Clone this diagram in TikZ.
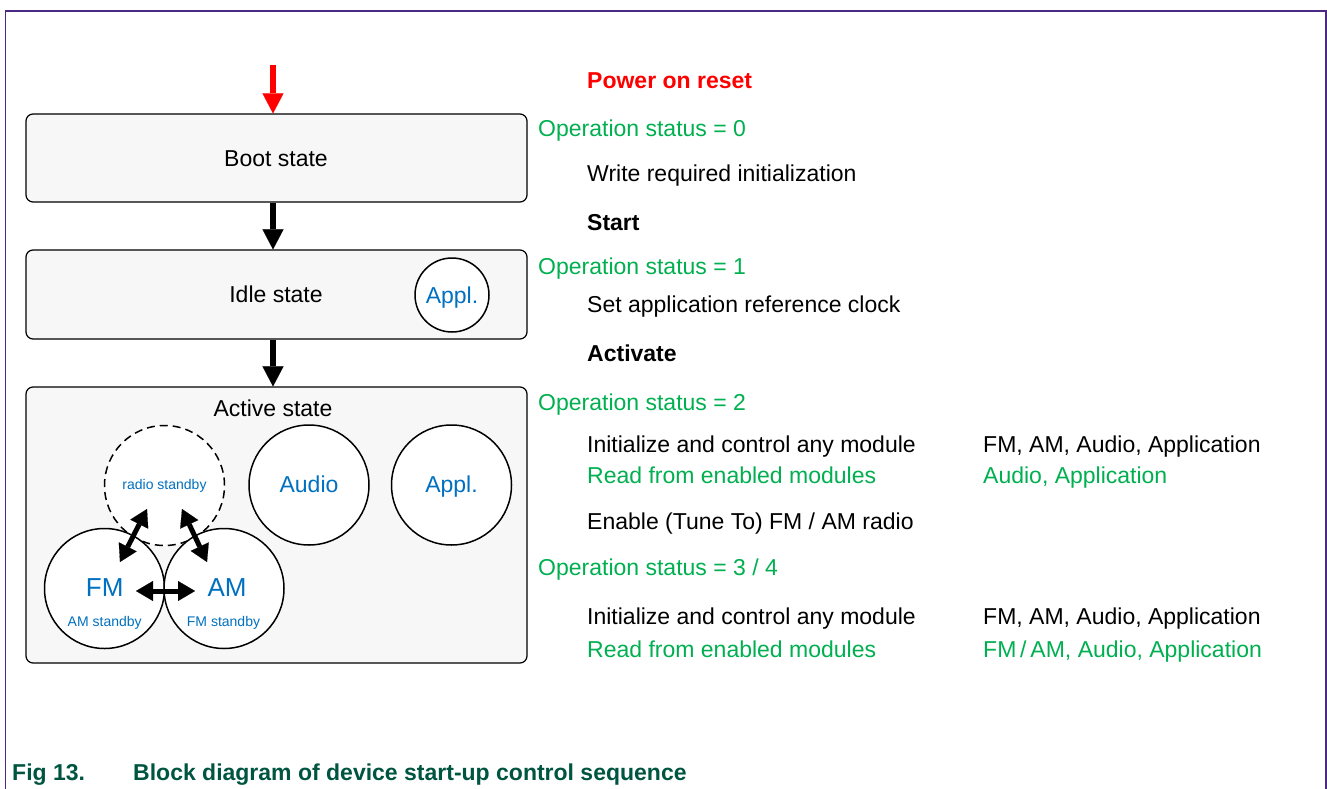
\documentclass[tikz,border=0pt]{standalone}
\usepackage{fontspec}
\setmainfont{Liberation Sans}
\usetikzlibrary{arrows.meta}
\definecolor{framecol}{RGB}{75,40,130}
\definecolor{grn}{RGB}{0,176,80}
\definecolor{blu}{RGB}{0,112,192}
\definecolor{capcol}{RGB}{0,85,65}
\definecolor{boxfill}{RGB}{247,247,247}
\begin{document}
\begin{tikzpicture}[x=1pt,y=-1pt,
  statebox/.style={draw=black, line width=1.2pt, fill=boxfill, rounded corners=7pt, minimum width=501pt, inner sep=0pt},
  mod/.style={circle, draw=black, line width=1.5pt, fill=white, minimum size=#1, inner sep=0pt},
  mod/.default=120pt,
  body/.style={inner sep=0pt, font=\fontsize{23}{27}\selectfont},
  lt/.style={body, anchor=base west},
  ct/.style={body, anchor=base},
  small/.style={inner sep=0pt, anchor=base, text=blu, font=\fontsize{14}{16}\selectfont},
  big/.style={inner sep=0pt, anchor=base, text=blu, font=\fontsize{26}{30}\selectfont},
  flow/.style={line width=6pt, -{Triangle[width=21pt,length=20pt,line width=0.1pt]}},
  dbl/.style={line width=5pt, {Triangle[width=20pt,length=17pt,line width=0.1pt]}-{Triangle[width=20pt,length=17pt,line width=0.1pt]}},
  captxt/.style={inner sep=0pt, anchor=base west, text=capcol, font=\fontsize{23}{27}\selectfont\bfseries},
]
\useasboundingbox (0,0) rectangle (1327,789);
\fill[white] (0,0) rectangle (1327,789);
\draw[framecol, line width=1.5pt] (5.5,789) -- (5.5,11) -- (1326,11) -- (1326,789);

% state boxes
\node[statebox, minimum height=88pt] (boot) at (276.5,158) {};
\node[statebox, minimum height=89pt] (idle) at (276.5,294.5) {};
\node[statebox, minimum height=276pt] (active) at (276.5,525) {};

\node[ct] (boottxt) at (276,166) {Boot state};
\node[ct] (idletxt) at (276,302) {Idle state};
\node[ct] (acttxt) at (273,416) {Active state};

% circles
\node[mod=74pt] (appl1) at (452,295) {};
\node[ct, text=blu] (appl1t) at (452,303) {Appl.};

\node[mod, dash pattern=on 8pt off 5pt] (radio) at (164.5,485.5) {};
\node[small] (radiot) at (164.5,489.5) {radio standby};
\node[mod] (audio) at (309,485) {};
\node[ct, text=blu] (audiot) at (309,492) {Audio};
\node[mod] (appl2) at (451.5,485) {};
\node[ct, text=blu] (appl2t) at (451.5,492) {Appl.};

\node[mod] (fm) at (104.5,588.5) {};
\node[mod] (am) at (224,588.5) {};
\node[big] (fmt) at (104.7,596.7) {FM};
\node[small] (fmst) at (104.7,626) {AM standby};
\node[big] (amt) at (227,596.7) {AM};
\node[small] (amst) at (223.5,626) {FM standby};

% arrows
\coordinate (por) at (273,65);
\draw[flow, red] (por) -- (boot.north -| por);
\draw[flow] (boot.south -| por) -- (idle.north -| por);
\draw[flow] (idle.south -| por) -- (active.north -| por);

\coordinate (fmR) at (136,591);
\coordinate (amL) at (195,591);
\draw[dbl] (fmR) -- (amL);
\coordinate (fmU) at (120,562);
\coordinate (rdL) at (147,509);
\draw[dbl] (fmU) -- (rdL);
\coordinate (rdR) at (182,509);
\coordinate (amU) at (207,562);
\draw[dbl] (rdR) -- (amU);

% right hand text
\node[lt, text=red, font=\fontsize{23}{27}\selectfont\bfseries] (t1) at (587,89) {Power on reset};
\node[lt, text=grn] (t2) at (538,136) {Operation status = 0};
\node[lt] (t3) at (587,181) {Write required initialization};
\node[lt, font=\fontsize{23}{27}\selectfont\bfseries] (t4) at (587,230) {Start};
\node[lt, text=grn] (t5) at (538,274) {Operation status = 1};
\node[lt] (t6) at (587,312) {Set application reference clock};
\node[lt, font=\fontsize{23}{27}\selectfont\bfseries] (t7) at (587,361) {Activate};
\node[lt, text=grn] (t8) at (538,410) {Operation status = 2};
\node[lt] (t9) at (587,452) {Initialize and control any module};
\node[lt] (t9b) at (983,452) {FM, AM, Audio, Application};
\node[lt, text=grn] (t10) at (587,483) {Read from enabled modules};
\node[lt, text=grn] (t10b) at (983,483) {Audio, Application};
\node[lt] (t11) at (587,529) {Enable (Tune To) FM / AM radio};
\node[lt, text=grn] (t12) at (538,575) {Operation status = 3 / 4};
\node[lt] (t13) at (587,624) {Initialize and control any module};
\node[lt] (t13b) at (983,624) {FM, AM, Audio, Application};
\node[lt, text=grn] (t14) at (587,657) {Read from enabled modules};
\node[lt, text=grn] (t14b) at (983,657) {FM\,/\,AM, Audio, Application};

% caption
\node[captxt] (cap1) at (12,780) {Fig 13.};
\node[captxt] (cap2) at (133,780) {Block diagram of device start-up control sequence};
\end{tikzpicture}
\end{document}
